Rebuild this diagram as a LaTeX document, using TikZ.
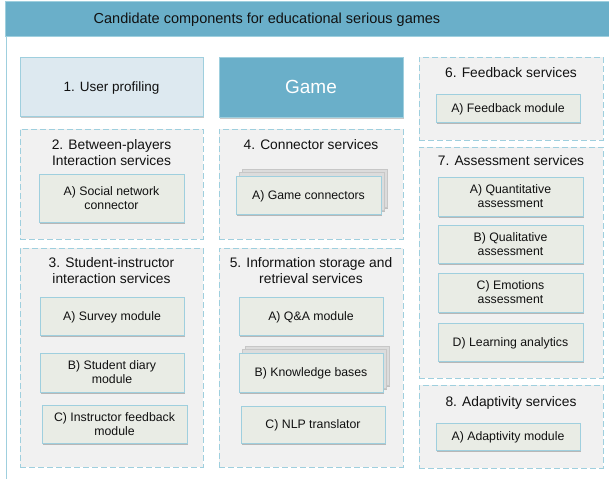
\documentclass[tikz,border=0pt]{standalone}
\usepackage{fontspec}
\setmainfont{Liberation Sans}
\usetikzlibrary{shadows}
\definecolor{barblue}{HTML}{6AAFC9}
\definecolor{bordblue}{HTML}{9FCFDE}
\definecolor{profblue}{HTML}{DDE9F0}
\definecolor{grpgray}{HTML}{F1F1F1}
\definecolor{modfill}{HTML}{E9ECE5}
\definecolor{stackgray}{HTML}{DCDCDC}
\definecolor{txt}{HTML}{111111}
\tikzset{
  grp/.style={draw=bordblue, fill=grpgray, line width=0.8pt, dash pattern=on 6pt off 3pt, inner sep=0pt},
  grptitle/.style={align=center, font=\fontsize{13.8}{16}\selectfont, text=txt, inner sep=0pt, text depth=0pt},
  module/.style={draw=bordblue, fill=modfill, line width=0.8pt, align=center, inner sep=0pt, text depth=0pt,
     font=\fontsize{12.3}{14}\selectfont, text=txt,
     drop shadow={shadow xshift=0.6pt, shadow yshift=-1.6pt, opacity=0.35, fill=black!70}},
  layer/.style={draw=black!22, fill=stackgray, line width=0.5pt,
     drop shadow={shadow xshift=0.6pt, shadow yshift=-1.6pt, opacity=0.3, fill=black!70}},
}
\begin{document}
\begin{tikzpicture}[x=1pt,y=-1pt]
\useasboundingbox (0,0) rectangle (609,479);
\fill[white] (0,0) rectangle (609,479);
% outer frame
\coordinate (ftop) at (6,36);
\coordinate (fbot) at (6,479);
\draw[bordblue, line width=1pt] (ftop) -- (fbot);
\node[fill=barblue, draw=bordblue, minimum width=605pt, minimum height=35pt, inner sep=0pt] (bar) at (307.5,18.5) {};
\node[font=\fontsize{14.5}{17}\selectfont, text=txt, inner sep=0pt, text depth=0pt] (title) at (267,18.5) {Candidate components for educational serious games};

% column 1
\node[draw=bordblue, fill=profblue, line width=0.8pt, minimum width=183pt, minimum height=59pt, inner sep=0pt,
  font=\fontsize{13.5}{16}\selectfont, text=txt, text depth=0pt,
  drop shadow={shadow xshift=0.6pt, shadow yshift=-1.6pt, opacity=0.3, fill=black!70}] (prof) at (111.5,86.5) {1. User profiling};

\node[grp, minimum width=183pt, minimum height=110pt] (g2) at (111.5,184) {};
\node[grptitle] (g2t) at (111.5,152) {2. Between-players\\Interaction services};
\node[module, minimum width=145pt, minimum height=48pt] (m2a) at (111.5,198) {A) Social network\\connector};

\node[grp, minimum width=183pt, minimum height=219pt] (g3) at (111.5,357.5) {};
\node[grptitle] (g3t) at (111.5,270.5) {3. Student-instructor\\interaction services};
\node[module, minimum width=144pt, minimum height=38pt] (m3a) at (112,316) {A) Survey module};
\node[module, minimum width=144pt, minimum height=39pt] (m3b) at (112,372.5) {B) Student diary\\module};
\node[module, minimum width=145pt, minimum height=38pt] (m3c) at (114.5,424) {C) Instructor feedback\\module};

% column 2
\node[fill=barblue, draw=bordblue, line width=0.8pt, minimum width=184pt, minimum height=60pt, inner sep=0pt,
  font=\fontsize{19}{22}\selectfont, text=white, text depth=0pt,
  drop shadow={shadow xshift=0.6pt, shadow yshift=-1.6pt, opacity=0.3, fill=black!70}] (game) at (311,87) {Game};

\node[grp, minimum width=184pt, minimum height=110pt] (g4) at (311,184) {};
\node[grptitle] (g4t) at (311,144) {4. Connector services};
\node[layer, minimum width=145pt, minimum height=38pt] (m4l2) at (314.5,188) {};
\node[layer, minimum width=145pt, minimum height=38pt] (m4l1) at (311.5,191.5) {};
\node[module, minimum width=145pt, minimum height=38pt] (m4a) at (308.5,195) {A) Game connectors};

\node[grp, minimum width=184pt, minimum height=219pt] (g5) at (311,357.5) {};
\node[grptitle] (g5t) at (311,270.5) {5. Information storage and\\retrieval services};
\node[module, minimum width=144pt, minimum height=38pt] (m5a) at (311,316) {A) Q\&A module};
\node[layer, minimum width=144pt, minimum height=39pt] (m5l2) at (317,365.5) {};
\node[layer, minimum width=144pt, minimum height=39pt] (m5l1) at (314,369) {};
\node[module, minimum width=144pt, minimum height=39pt] (m5b) at (311,372.5) {B) Knowledge bases};
\node[module, minimum width=144pt, minimum height=37pt] (m5c) at (313,424.5) {C) NLP translator};

% column 3
\node[grp, minimum width=184pt, minimum height=83pt] (g6) at (511,98.5) {};
\node[grptitle] (g6t) at (511,72) {6. Feedback services};
\node[module, minimum width=144pt, minimum height=28pt] (m6a) at (508,108) {A) Feedback module};

\node[grp, minimum width=184pt, minimum height=231pt] (g7) at (511,262.5) {};
\node[grptitle] (g7t) at (511,160) {7. Assessment services};
\node[module, minimum width=145pt, minimum height=39pt] (m7a) at (510.5,196.5) {A) Quantitative\\assessment};
\node[module, minimum width=145pt, minimum height=38pt] (m7b) at (510.5,244) {B) Qualitative\\assessment};
\node[module, minimum width=145pt, minimum height=39pt] (m7c) at (510.5,292.5) {C) Emotions\\assessment};
\node[module, minimum width=145pt, minimum height=38pt] (m7d) at (510.5,342) {D) Learning analytics};

\node[grp, minimum width=184pt, minimum height=83pt] (g8) at (511,426.5) {};
\node[grptitle] (g8t) at (511,401) {8. Adaptivity services};
\node[module, minimum width=144pt, minimum height=27pt] (m8a) at (508,436.5) {A) Adaptivity module};
\end{tikzpicture}
\end{document}
